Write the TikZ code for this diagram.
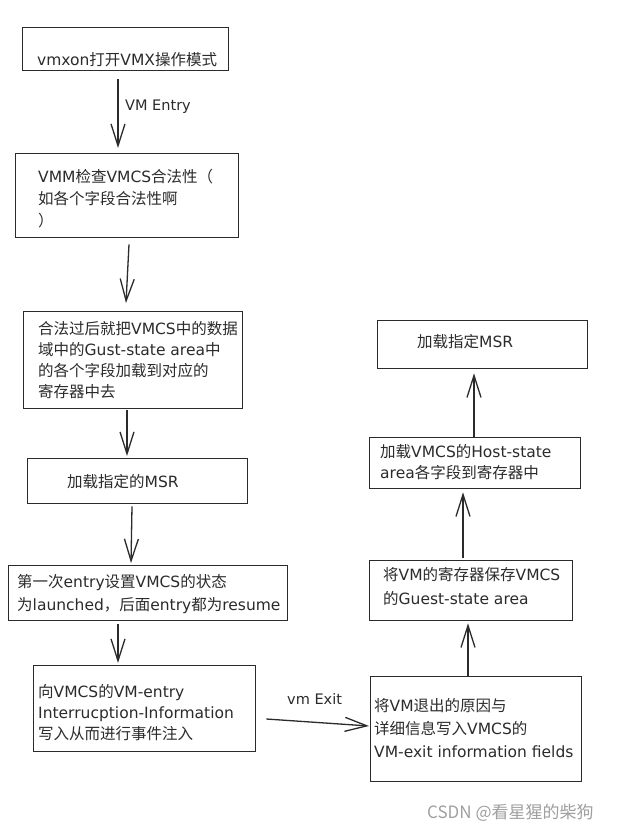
\documentclass[tikz,border=0pt]{standalone}
\usepackage{fontspec}
\setmainfont{DejaVu Sans}
\newfontfamily\cjkfam{Noto Sans CJK SC}
\newcommand\zhc[1]{{\cjkfam #1}}
\usetikzlibrary{arrows.meta}
\definecolor{ink}{HTML}{2B2B2B}
\definecolor{wm}{HTML}{A0A0A0}
\tikzset{
  box/.style={draw=ink, line width=1.3pt, rectangle, inner sep=0pt, anchor=north west},
  txt/.style={anchor=north west, inner sep=0pt, align=left, text=ink,
     font=\fontsize{15.5}{22}\selectfont},
  lbl/.style={anchor=west, inner sep=0pt, text=ink, font=\fontsize{14.5}{16}\selectfont},
  arr/.style={draw=ink, line width=1.3pt, -{Straight Barb[length=22pt,width=14pt,line width=1.3pt]}}
}
\begin{document}
\begin{tikzpicture}[x=1pt,y=-1pt]
\useasboundingbox[fill=white] (0,0) rectangle (632,832);
% boxes
\node[box, minimum width=206pt, minimum height=43pt] (b1) at (22,27) {};
\node[box, minimum width=223pt, minimum height=84pt] (b2) at (15,153) {};
\node[box, minimum width=219pt, minimum height=97pt] (b3) at (23,311) {};
\node[box, minimum width=220pt, minimum height=45pt] (b4) at (27,458) {};
\node[box, minimum width=279pt, minimum height=55pt] (b5) at (8,565) {};
\node[box, minimum width=222pt, minimum height=86pt] (b6) at (33,665) {};
\node[box, minimum width=211pt, minimum height=105pt] (b7) at (370,676) {};
\node[box, minimum width=203pt, minimum height=60pt] (b8) at (369,560) {};
\node[box, minimum width=211pt, minimum height=51pt] (b9) at (369,437) {};
\node[box, minimum width=210pt, minimum height=48pt] (b10) at (377,320) {};
% texts
\node[txt] (t1) at (37,52) {vmxon\zhc{打开}VMX\zhc{操作模式}};
\node[txt] (t2) at (38,169) {VMM\zhc{检查}VMCS\zhc{合法性（}\\\zhc{如各个字段合法性啊}\\\zhc{）}};
\node[txt, font=\fontsize{15.5}{21}\selectfont] (t3) at (38,321) {\zhc{合法过后就把}VMCS\zhc{中的数据}\\\zhc{域中的}Gust-state area\zhc{中}\\\zhc{的各个字段加载到对应的}\\\zhc{寄存器中去}};
\node[txt] (t4) at (67,474) {\zhc{加载指定的}MSR};
\node[txt, font=\fontsize{15.5}{23}\selectfont] (t5) at (17,574) {\zhc{第一次}entry\zhc{设置}VMCS\zhc{的状态}\\\zhc{为}launched\zhc{，后面}entry\zhc{都为}resume};
\node[txt, font=\fontsize{15.5}{21}\selectfont] (t6) at (38,684) {\zhc{向}VMCS\zhc{的}VM-entry\\Interrucption-Information\\\zhc{写入从而进行事件注入}};
\node[txt, font=\fontsize{15.5}{23}\selectfont] (t7) at (374,698) {\zhc{将}VM\zhc{退出的原因与}\\\zhc{详细信息写入}VMCS\zhc{的}\\VM-exit information fields};
\node[txt, font=\fontsize{15.5}{24}\selectfont] (t8) at (383,567) {\zhc{将}VM\zhc{的寄存器保存}VMCS\\\zhc{的}Guest-state area};
\node[txt, font=\fontsize{15.5}{21}\selectfont] (t9) at (380,444) {\zhc{加载}VMCS\zhc{的}Host-state\\area\zhc{各字段到寄存器中}};
\node[txt] (t10) at (417,334) {\zhc{加载指定}MSR};
% arrows
\draw[arr] ([shift={(96,8)}]b1.south west) -- ([shift={(103,-5)}]b2.north west);
\node[lbl] (l1) at (125,107) {VM Entry};
\draw[arr] ([shift={(114,6)}]b2.south west) -- ([shift={(103,-8)}]b3.north west);
\draw[arr] ([shift={(104,1)}]b3.south west) -- ([shift={(100,-2)}]b4.north west);
\draw[arr] ([shift={(105,2)}]b4.south west) -- ([shift={(123,-2)}]b5.north west);
\draw[arr] ([shift={(110,3)}]b5.south west) -- ([shift={(85,-2)}]b6.north west);
\draw[arr] ([shift={(10,54)}]b6.north east) -- ([shift={(-1,50)}]b7.north west);
\node[lbl] (l2) at (287,699) {vm Exit};
\draw[arr] ([shift={(98,1)}]b7.north west) -- ([shift={(99,2)}]b8.south west);
\draw[arr] ([shift={(94,-2)}]b8.north west) -- ([shift={(94,3)}]b9.south west);
\draw[arr] ([shift={(105,0)}]b9.north west) -- ([shift={(97,4)}]b10.south west);
% watermark
\node[anchor=west, inner sep=0pt, text=wm, font=\cjkfam\fontsize{17}{19}\selectfont] (wmk) at (427,813) {CSDN @看星猩的柴狗};
\end{tikzpicture}
\end{document}
